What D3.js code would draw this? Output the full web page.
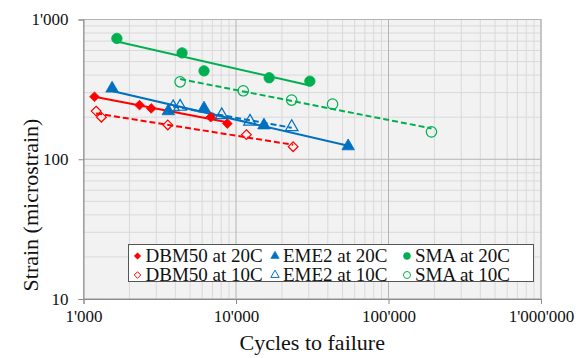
<!DOCTYPE html>
<html><head><meta charset="utf-8">
<script src="https://cdn.jsdelivr.net/npm/d3@7"></script>
<style>
html,body{margin:0;padding:0;background:#fff;}
svg text{font-family:"Liberation Serif","Times New Roman",serif !important;fill:#111;}
</style></head>
<body><svg id="chart" width="584" height="358"></svg>
<script>
// ---- data ----
const dbm20N = [1180, 2330, 2780, 6830, 8770];
const dbm20S = [280, 244, 231, 200, 180];
const dbm10N = [1210, 1310, 3570, 11700, 23700];
const dbm10S = [221, 200, 176, 150, 123];
const eme20N = [1540, 3600, 6170, 15250, 54400];
const eme20S = [321, 221, 231, 175, 124];
const eme10N = [3870, 4300, 8060, 12350, 23200];
const eme10S = [236, 238, 207, 186, 170];
const sma20N = [1655, 4430, 6170, 16500, 30500];
const sma20S = [732, 577, 429, 383, 362];
const sma10N = [4300, 11160, 23170, 42960, 191300];
const sma10S = [358, 309, 265, 248, 157];
const seriesNames = ["DBM50 at 20C","EME2 at 20C","SMA at 20C","DBM50 at 10C","EME2 at 10C","SMA at 10C"];
const xTicks = [1000, 10000, 100000, 1000000];
const yTicks = [10, 100, 1000];
const xTitle = "Cycles to failure";
const yTitle = "Strain (microstrain)";

const RED = "#ff0000", BLUE = "#0070c0", GREEN = "#00b050";
const SERIF = '"Liberation Serif","Times New Roman",serif';
const series = [
  {name: seriesNames[0], N: dbm20N, S: dbm20S, color: RED, shape: "diamond", filled: true, dash: null},
  {name: seriesNames[1], N: eme20N, S: eme20S, color: BLUE, shape: "triangle", filled: true, dash: null},
  {name: seriesNames[2], N: sma20N, S: sma20S, color: GREEN, shape: "circle", filled: true, dash: null},
  {name: seriesNames[3], N: dbm10N, S: dbm10S, color: RED, shape: "diamond", filled: false, dash: "6,3"},
  {name: seriesNames[4], N: eme10N, S: eme10S, color: BLUE, shape: "triangle", filled: false, dash: "6,3"},
  {name: seriesNames[5], N: sma10N, S: sma10S, color: GREEN, shape: "circle", filled: false, dash: "6,3"}
];

const L = 83.5, R = 541, T = 19.5, B = 299;
const svg = d3.select("#chart");
const x = d3.scaleLog().domain([1000, 1e6]).range([L, R]);
const y = d3.scaleLog().domain([10, 1000]).range([B, T]);
const loc = d3.formatLocale({decimal: ".", thousands: "'", grouping: [3], currency: ["", ""]});
const fmt = loc.format(",");

// plot background
svg.append("rect").attr("x", L).attr("y", T).attr("width", R - L).attr("height", B - T).attr("fill", "#f2f2f2");

// minor gridlines
const minorX = [], minorY = [];
for (let d = 1000; d < 1e6; d *= 10) for (let k = 2; k <= 9; k++) minorX.push(d * k);
for (let d = 10; d < 1000; d *= 10) for (let k = 2; k <= 9; k++) minorY.push(d * k);
const g = svg.append("g");
g.selectAll(".mx").data(minorX).join("line").attr("x1", d => x(d)).attr("x2", d => x(d))
  .attr("y1", T).attr("y2", B).attr("stroke", "#d9d9d9").attr("stroke-width", 1);
g.selectAll(".my").data(minorY).join("line").attr("y1", d => y(d)).attr("y2", d => y(d))
  .attr("x1", L).attr("x2", R).attr("stroke", "#d9d9d9").attr("stroke-width", 1);
// major gridlines
g.selectAll(".Mx").data(xTicks).join("line").attr("x1", d => x(d)).attr("x2", d => x(d))
  .attr("y1", T).attr("y2", B).attr("stroke", "#b4b4b4").attr("stroke-width", 1);
g.selectAll(".My").data(yTicks).join("line").attr("y1", d => y(d)).attr("y2", d => y(d))
  .attr("x1", L).attr("x2", R).attr("stroke", "#b4b4b4").attr("stroke-width", 1);
// plot border
svg.append("rect").attr("x", L).attr("y", T).attr("width", R - L).attr("height", B - T)
  .attr("fill", "none").attr("stroke", "#b4b4b4").attr("stroke-width", 1);

// axes
const xAxis = d3.axisBottom(x).tickValues(xTicks).tickFormat(fmt).tickSizeOuter(0).tickSize(5).tickPadding(6);
const yAxis = d3.axisLeft(y).tickValues(yTicks).tickFormat(fmt).tickSizeOuter(0).tickSize(5).tickPadding(10);
const gx = svg.append("g").attr("transform", `translate(0,${B})`).call(xAxis);
const gy = svg.append("g").attr("transform", `translate(${L},0)`).call(yAxis);
[gx, gy].forEach(a => {
  a.attr("font-family", SERIF).attr("font-size", 17);
  a.select(".domain").attr("stroke", "#8c8c8c");
  a.selectAll(".tick line").attr("stroke", "#8c8c8c");
  a.selectAll("text").style("font-family", SERIF).style("font-size", "17px").attr("fill", "#111");
});

// trendlines (power fit, as in the spreadsheet)
function powerFit(N, S) {
  const lx = N.map(Math.log10), ly = S.map(Math.log10);
  const mx = d3.mean(lx), my = d3.mean(ly);
  const b = d3.sum(lx, (v, i) => (v - mx) * (ly[i] - my)) / d3.sum(lx, v => (v - mx) * (v - mx));
  const a = my - b * mx;
  const n0 = d3.min(N), n1 = d3.max(N);
  return [[n0, Math.pow(10, a + b * Math.log10(n0))], [n1, Math.pow(10, a + b * Math.log10(n1))]];
}
const line = d3.line().x(d => x(d[0])).y(d => y(d[1]));
series.forEach(s => {
  svg.append("path").attr("d", line(powerFit(s.N, s.S))).attr("fill", "none")
    .attr("stroke", s.color).attr("stroke-width", 2).attr("stroke-dasharray", s.dash);
});

// markers
function markerPath(shape, size) {
  if (shape === "diamond") return d3.symbol().type(d3.symbolDiamond2 || d3.symbolDiamond).size(size)();
  if (shape === "triangle") return d3.symbol().type(d3.symbolTriangle).size(size)();
  return d3.symbol().type(d3.symbolCircle).size(size)();
}
const sizes = {diamond: 60, triangle: 68, circle: 85};
series.forEach(s => {
  const pts = s.N.map((n, i) => [n, s.S[i]]);
  svg.append("g").selectAll("path").data(pts).join("path")
    .attr("d", markerPath(s.shape, sizes[s.shape]))
    .attr("transform", d => `translate(${x(d[0])},${y(d[1])})`)
    .attr("fill", s.filled ? s.color : "#fff")
    .attr("fill-opacity", s.filled ? 1 : 0)
    .attr("stroke", s.color).attr("stroke-width", s.filled ? 0.8 : 1.2);
});

// legend
const lg = svg.append("g");
lg.append("rect").attr("x", 128.5).attr("y", 244.5).attr("width", 405).attr("height", 37)
  .attr("fill", "#fff").attr("stroke", "#555").attr("stroke-width", 1);
const colX = [137.5, 275, 407];
const rowY = [256, 275];
series.forEach((s, i) => {
  const cx = colX[i % 3], cy = rowY[Math.floor(i / 3)];
  lg.append("path").attr("d", markerPath(s.shape, sizes[s.shape] * 0.45))
    .attr("transform", `translate(${cx},${cy})`)
    .attr("fill", s.filled ? s.color : "#fff")
    .attr("stroke", s.color).attr("stroke-width", s.filled ? 0.6 : 1);
  lg.append("text").attr("x", cx + 8).attr("y", cy + 6).style("font-size", "19px").text(s.name);
});

// axis titles
svg.append("text").attr("x", (L + R) / 2).attr("y", 350).attr("text-anchor", "middle")
  .style("font-size", "22px").text(xTitle);
svg.append("text").attr("transform", "translate(38,205) rotate(-90)").attr("text-anchor", "middle")
  .style("font-size", "22px").text(yTitle);
</script></body></html>
